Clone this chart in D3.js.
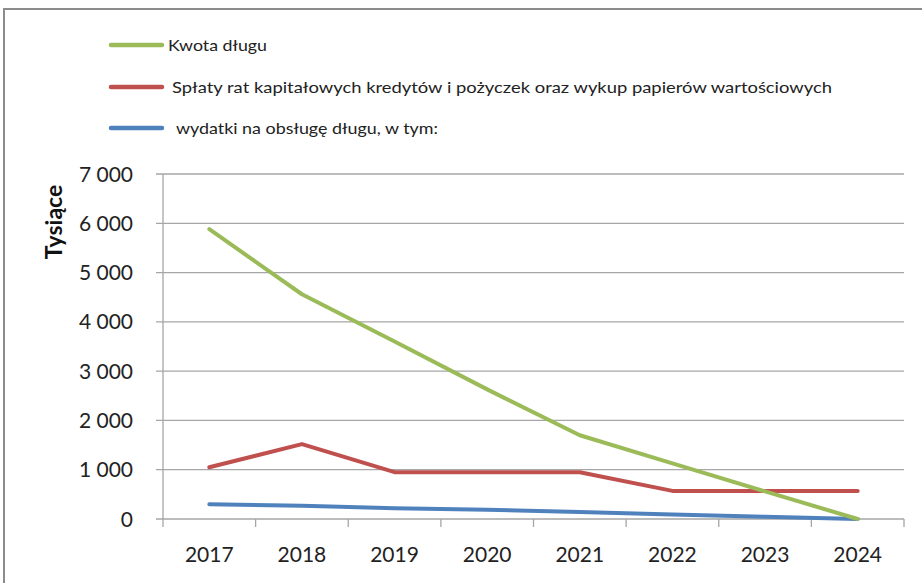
<!DOCTYPE html>
<html>
<head>
<meta charset="utf-8">
<script src="https://cdn.jsdelivr.net/npm/d3@7"></script>
<style>
  body { margin: 0; background: #fff; }
  svg { display: block; font-family: Lato, "Open Sans", sans-serif; }
</style>
</head>
<body>
<svg id="chart" width="922" height="583"></svg>
<script>
// data (thousands)
const years = ["2017", "2018", "2019", "2020", "2021", "2022", "2023", "2024"];
const kwotaDlugu = [5880, 4560, 3600, 2630, 1700, 1130, 560, 0];
const splaty = [1050, 1520, 950, 950, 950, 570, 570, 570];
const wydatki = [300, 270, 220, 190, 140, 90, 45, 0];
const yTicks = [0, 1000, 2000, 3000, 4000, 5000, 6000, 7000];

const seriesNames = [
  "Kwota długu",
  "Spłaty rat kapitałowych kredytów i pożyczek oraz wykup papierów wartościowych",
  "wydatki na obsługę długu, w tym:"
];
const colors = ["#9bbb59", "#c0504d", "#4f81bd"];

const svg = d3.select("#chart");

// outer frame (only top and left edges show in the picture)
svg.append("path")
  .attr("d", "M4,583 V9 H922")
  .attr("fill", "none")
  .attr("stroke", "#8c8c8c")
  .attr("stroke-width", 2);

const margin = { left: 163, right: 18, top: 174, bottom: 64 };
const width = 922 - margin.left - margin.right;
const height = 583 - margin.top - margin.bottom;

const g = svg.append("g").attr("transform", `translate(${margin.left},${margin.top})`);

const x = d3.scaleBand().domain(years).range([0, width]);
const y = d3.scaleLinear().domain([0, 7000]).range([height, 0]);

// horizontal grid lines + y ticks
g.selectAll(".grid")
  .data(yTicks)
  .enter()
  .append("line")
  .attr("x1", -7)
  .attr("x2", width)
  .attr("y1", d => y(d))
  .attr("y2", d => y(d))
  .attr("stroke", "#a6a6a6")
  .attr("stroke-width", 1.3);

const fmt = d => d3.format(",")(d).replace(/,/g, " ");
g.selectAll(".ylab")
  .data(yTicks)
  .enter()
  .append("text")
  .attr("x", -30)
  .attr("y", d => y(d))
  .attr("dy", "0.36em")
  .attr("text-anchor", "end")
  .attr("font-size", 21)
  .attr("fill", "#222")
  .text(fmt);

// y axis line
g.append("line")
  .attr("x1", 0).attr("x2", 0)
  .attr("y1", 0).attr("y2", height + 8)
  .attr("stroke", "#a6a6a6")
  .attr("stroke-width", 1.3);

// x axis ticks at category boundaries
const bounds = years.map(d => x(d)).concat([width]);
g.selectAll(".xtick")
  .data(bounds.slice(1))
  .enter()
  .append("line")
  .attr("x1", d => d).attr("x2", d => d)
  .attr("y1", height).attr("y2", height + 8)
  .attr("stroke", "#a6a6a6")
  .attr("stroke-width", 1.3);

g.selectAll(".xlab")
  .data(years)
  .enter()
  .append("text")
  .attr("x", d => x(d) + x.bandwidth() / 2)
  .attr("y", height + 43)
  .attr("text-anchor", "middle")
  .attr("font-size", 21)
  .attr("fill", "#222")
  .text(d => d);

// y axis title
svg.append("text")
  .attr("transform", "translate(62,222) rotate(-90)")
  .attr("text-anchor", "middle")
  .attr("font-size", 23)
  .attr("font-weight", "bold")
  .attr("fill", "#111")
  .text("Tysiące");

// lines
const allSeries = [kwotaDlugu, splaty, wydatki];
const line = d3.line()
  .x((d, i) => x(years[i]) + x.bandwidth() / 2)
  .y(d => y(d));

// draw blue first, green on top like the reference
[2, 1, 0].forEach(k => {
  g.append("path")
    .datum(allSeries[k])
    .attr("d", line)
    .attr("fill", "none")
    .attr("stroke", colors[k])
    .attr("stroke-width", 4)
    .attr("stroke-linecap", "round")
    .attr("stroke-linejoin", "round");
});

// legend
const legendY = [45, 87, 128];
const legendTextX = [168, 172, 176];
const legendTextW = [99, 660, 262];
const leg = svg.append("g");
seriesNames.forEach((name, i) => {
  leg.append("line")
    .attr("x1", 111).attr("x2", 162)
    .attr("y1", legendY[i]).attr("y2", legendY[i])
    .attr("stroke", colors[i])
    .attr("stroke-width", 4.5)
    .attr("stroke-linecap", "round");
  leg.append("text")
    .attr("x", legendTextX[i])
    .attr("y", legendY[i])
    .attr("dy", "0.35em")
    .attr("font-size", 16)
    .attr("fill", "#222")
    .attr("textLength", legendTextW[i])
    .attr("lengthAdjust", "spacingAndGlyphs")
    .text(name);
});
</script>
</body>
</html>
